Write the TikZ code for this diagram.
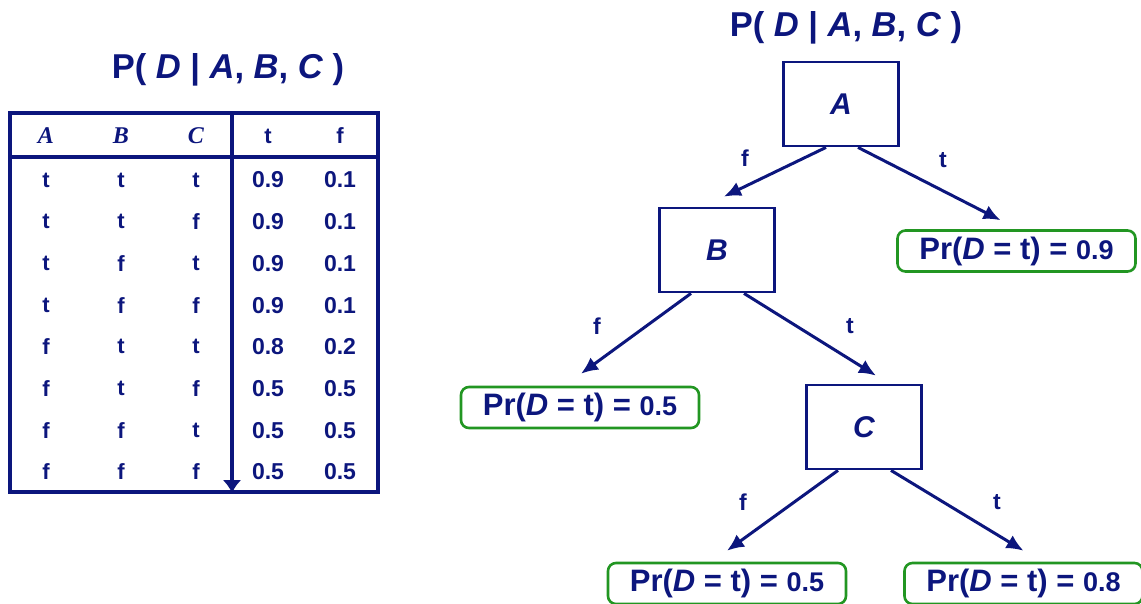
\documentclass[tikz,border=0pt]{standalone}
\usepackage{fontspec}
\setmainfont{Liberation Sans}
\newfontfamily\timesfont{Liberation Serif}
\usetikzlibrary{arrows.meta,positioning}

\definecolor{navy}{RGB}{12,22,125}
\definecolor{leafgreen}{RGB}{34,150,34}

\tikzset{
  title/.style={font=\fontsize{34.5}{37}\selectfont\bfseries},
  split/.style={draw=navy, line width=2.8pt, minimum width=115pt, minimum height=84pt,
    inner sep=0pt, font=\fontsize{30}{32}\selectfont\bfseries\itshape},
  leaf/.style={draw=leafgreen, rounded corners=8pt, line width=2.6pt, minimum width=238pt,
    minimum height=41pt, inner sep=0pt, font=\fontsize{31}{33}\selectfont\bfseries},
  branch/.style={navy, line width=3pt, -{Latex[length=17pt,width=15pt]}},
  edgelbl/.style={font=\fontsize{23}{25}\selectfont\bfseries},
  tabline/.style={navy, line width=3.2pt},
  hdr/.style={font=\fontsize{24}{26}\selectfont\timesfont\bfseries\itshape},
  cell/.style={font=\fontsize{22}{24}\selectfont\bfseries},
  num/.style={font=\fontsize{23}{25}\selectfont\bfseries}
}

% leaf text: probability that D is true
\newcommand{\leafval}[1]{Pr(\textit{D} = t) = {\fontsize{27}{29}\selectfont #1}}

\begin{document}
\begin{tikzpicture}[x=1pt, y=-1pt, text=navy]
  \useasboundingbox (0,0) rectangle (1141,603);

  % Conditional probability table
  \node[title] (cpt) at (228,70) {P( \textit{D} | \textit{A}, \textit{B}, \textit{C} )};

  \draw[tabline] (10,113) rectangle (378,492);
  \draw[tabline] (10,157) -- (378,157);
  \draw[tabline, -{Latex[length=13pt,width=19pt]}] (232,113) -- (232,493);

  \node[hdr] (hA) at (46,136) {A};
  \node[hdr] (hB) at (121,136) {B};
  \node[hdr] (hC) at (196,136) {C};
  \node[cell] (ht) at (268,136) {t};
  \node[cell] (hf) at (340,136) {f};

  \foreach \a/\b/\c/\pt/\pf [count=\i from 0] in {t/t/t/0.9/0.1, t/t/f/0.9/0.1,
      t/f/t/0.9/0.1, t/f/f/0.9/0.1, f/t/t/0.8/0.2, f/t/f/0.5/0.5,
      f/f/t/0.5/0.5, f/f/f/0.5/0.5} {
    \node[cell] (a\i) at (46,180+41.7*\i) {\a};
    \node[cell] (b\i) at (121,180+41.7*\i) {\b};
    \node[cell] (c\i) at (196,180+41.7*\i) {\c};
    \node[num] (pt\i) at (268,180+41.7*\i) {\pt};
    \node[num] (pf\i) at (340,180+41.7*\i) {\pf};
  }

  % Decision tree
  \node[title] (tree) at (846,28) {P( \textit{D} | \textit{A}, \textit{B}, \textit{C} )};

  \node[split] (A) at (841,104) {A};
  \node[split] (B) at (717,250) {B};
  \node[split] (C) at (864,427) {C};

  \node[leaf] (leafA) at (1016.5,251) {\leafval{0.9}};
  \node[leaf] (leafB) at (580,407.5) {\leafval{0.5}};
  \node[leaf] (leafCf) at (727,583.5) {\leafval{0.5}};
  \node[leaf] (leafCt) at (1023.5,583.5) {\leafval{0.8}};

  \draw[branch] ([xshift=-15pt]A.south) -- ([xshift=7pt,yshift=10pt]B.north);
  \draw[branch] ([xshift=17pt]A.south) -- ([xshift=-16pt,yshift=9pt]leafA.north);
  \draw[branch] ([xshift=-26pt]B.south) -- ([xshift=1pt,yshift=12pt]leafB.north);
  \draw[branch] ([xshift=27pt]B.south) -- ([xshift=12pt,yshift=8pt]C.north);
  \draw[branch] ([xshift=-26pt]C.south) -- ([yshift=11pt]leafCf.north);
  \draw[branch] ([xshift=27pt]C.south) -- ([yshift=11pt]leafCt.north);

  % branch labels
  \node[edgelbl] (fA) at (745,158) {f};
  \node[edgelbl] (tA) at (943,160) {t};
  \node[edgelbl] (fB) at (597,326) {f};
  \node[edgelbl] (tB) at (850,326) {t};
  \node[edgelbl] (fC) at (743,502) {f};
  \node[edgelbl] (tC) at (997,502) {t};
\end{tikzpicture}
\end{document}
